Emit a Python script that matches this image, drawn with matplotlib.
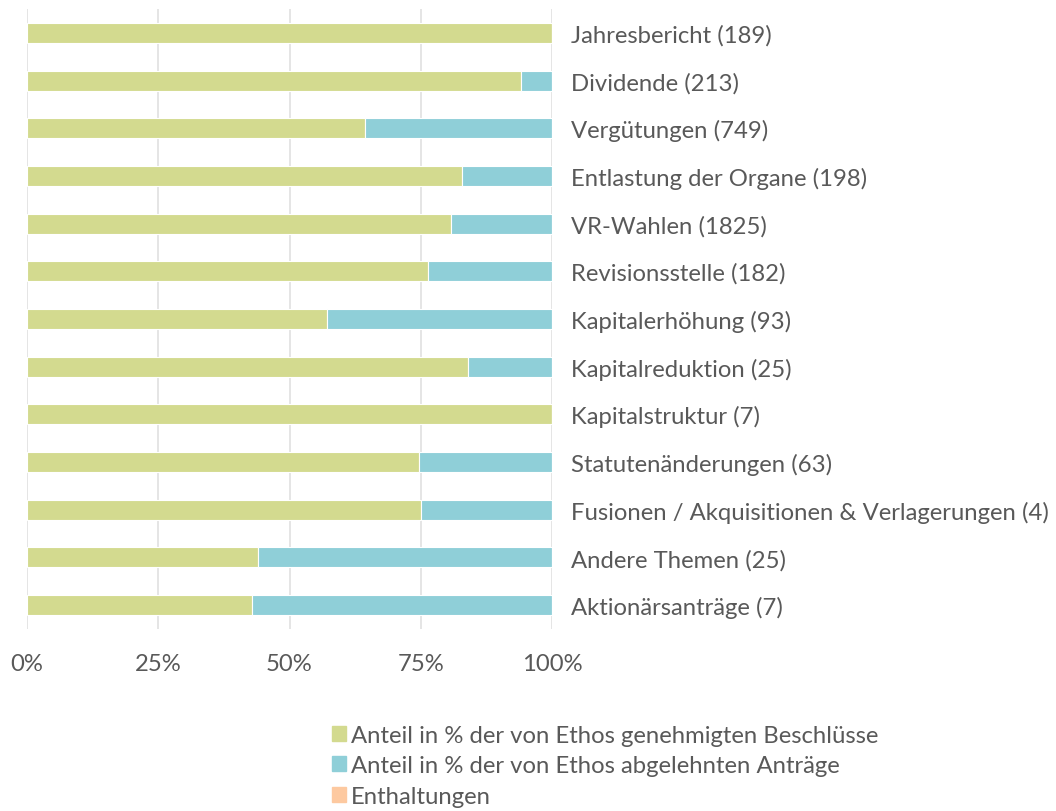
import matplotlib.pyplot as plt
from matplotlib.patches import Rectangle
from matplotlib.ticker import PercentFormatter

plt.rcParams['font.family'] = ['Lato', 'DejaVu Sans']

categories = ["Jahresbericht (189)", "Dividende (213)", "Vergütungen (749)",
              "Entlastung der Organe (198)", "VR-Wahlen (1825)", "Revisionsstelle (182)",
              "Kapitalerhöhung (93)", "Kapitalreduktion (25)", "Kapitalstruktur (7)",
              "Statutenänderungen (63)", "Fusionen / Akquisitionen & Verlagerungen (4)",
              "Andere Themen (25)", "Aktionärsanträge (7)"]
approved = [100.0, 94.0, 64.4, 82.9, 80.8, 76.4, 57.1, 84.0, 100.0, 74.6, 75.0, 44.0, 42.9]
rejected = [0.0, 6.0, 35.6, 17.1, 19.2, 23.6, 42.9, 16.0, 0.0, 25.4, 25.0, 56.0, 57.1]
abstained = [0.0] * 13
series_names = ["Anteil in % der von Ethos genehmigten Beschlüsse",
                "Anteil in % der von Ethos abgelehnten Anträge",
                "Enthaltungen"]
colors = ["#d3da8f", "#8fcfd8", "#fdc9a0"]
text_color = "#595959"

fig = plt.figure(figsize=(10.56, 8.12), dpi=100)
ax = fig.add_axes([27 / 1056, 1 - 630 / 812, 525 / 1056, 620 / 812])

y = list(range(len(categories)))
left = [0.0] * len(categories)
for vals, col in zip([approved, rejected, abstained], colors):
    ax.barh(y, vals, left=left, height=0.42, color=col, edgecolor="white", linewidth=0.8, zorder=3)
    left = [a + b for a, b in zip(left, vals)]

ax.set_ylim(len(categories) - 0.5, -0.5)
ax.set_xlim(0, 100)
ax.set_xticks([0, 25, 50, 75, 100])
ax.xaxis.set_major_formatter(PercentFormatter(decimals=0))
ax.set_yticks(y)
ax.set_yticklabels(categories)
ax.yaxis.tick_right()
ax.tick_params(axis="y", length=0, pad=14, labelsize=17.2, labelcolor=text_color)
ax.tick_params(axis="x", length=0, pad=17, labelsize=17.2, labelcolor=text_color)
ax.grid(axis="x", color="#e0e0e0", linewidth=1.2, zorder=0)
for s in ax.spines.values():
    s.set_visible(False)

handles = [Rectangle((0, 0), 1, 1, color=c) for c in colors]
fig.legend(handles, series_names, loc="upper left", bbox_to_anchor=(322 / 1056, 1 - 716 / 812),
           frameon=False, fontsize=17.2, labelcolor=text_color, handlelength=0.6, handleheight=0.6,
           handletextpad=0.2, labelspacing=0.4, borderaxespad=0)

fig.savefig("out.png", dpi=100)
